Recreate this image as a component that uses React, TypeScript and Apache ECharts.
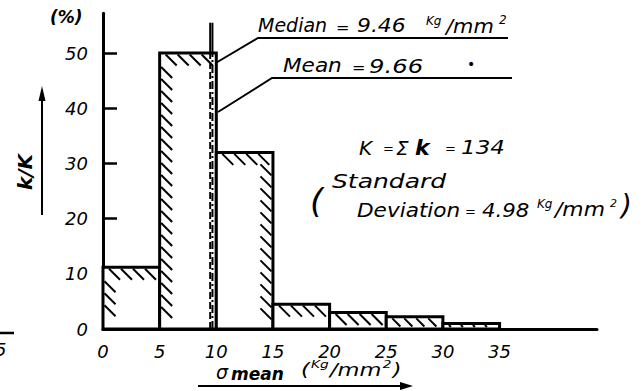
import React, { useEffect, useRef } from "react";
import * as echarts from "echarts";

// ---- data ----
const binStarts = [0, 5, 10, 15, 20, 25, 30];
const binEnds = [5, 10, 15, 20, 25, 30, 35];
const percentages = [11.2, 50, 32, 4.5, 3, 2.2, 1];
const medianValue = 9.46;
const meanValue = 9.66;
const xTickValues = [0, 5, 10, 15, 20, 25, 30, 35];
const yTickValues = [0, 10, 20, 30, 40, 50];

const FONT = "DejaVu Sans";

function txt(text: string, x: number, y: number, size: number, extra: any = {}) {
  return {
    type: "text",
    x,
    y,
    scaleX: extra.scaleX ?? 1,
    rotation: extra.rotation ?? 0,
    silent: true,
    style: {
      text,
      fontSize: size,
      fontFamily: FONT,
      fontStyle: "italic",
      fontWeight: extra.weight ?? "normal",
      fill: "#000",
      textAlign: extra.align ?? "left",
      textVerticalAlign: "middle",
    },
  };
}

function line(x1: number, y1: number, x2: number, y2: number, w = 2) {
  return { type: "line", silent: true, shape: { x1, y1, x2, y2 }, style: { stroke: "#000", lineWidth: w } };
}

export default function App() {
  const ref = useRef<HTMLDivElement>(null);
  useEffect(() => {
    if (!ref.current) return;
    const chart = echarts.init(ref.current, undefined, { renderer: "svg" });
    const histData = binStarts.map((s, i) => [s, binEnds[i], percentages[i]]);

    const renderItem = (params: any, api: any) => {
      const x0 = api.value(0);
      const x1 = api.value(1);
      const v = api.value(2);
      const idx = params.dataIndex;
      const tl = api.coord([x0, v]);
      const br = api.coord([x1, 0]);
      const w = br[0] - tl[0];
      const h = br[1] - tl[1];
      const children: any[] = [];
      children.push({
        type: "rect",
        shape: { x: tl[0], y: tl[1], width: w, height: h },
        style: { fill: "#fff", stroke: "#000", lineWidth: 3 },
      });
      const L = Math.max(2, Math.min(11, h - 4));
      const step = 12;
      const hs = { stroke: "#000", lineWidth: 2 };
      // hatching along top edge
      for (let x = tl[0] + 6; x + L < br[0] - 2; x += step) {
        children.push({ type: "line", shape: { x1: x, y1: tl[1] + 1.5, x2: x + L, y2: tl[1] + 1.5 + L }, style: hs });
      }
      // hatching along left edge
      if (idx < 2) {
        for (let y = tl[1] + 14; y + L < br[1] - 1; y += step) {
          children.push({ type: "line", shape: { x1: tl[0] + 1.5, y1: y, x2: tl[0] + 1.5 + L, y2: y + L }, style: hs });
        }
      }
      // hatching along right edge
      if (idx === 2) {
        for (let y = tl[1] + 12; y + L < br[1] - 1; y += step) {
          children.push({ type: "line", shape: { x1: br[0] - 1.5 - L, y1: y, x2: br[0] - 1.5, y2: y + L }, style: hs });
        }
      }
      return { type: "group", children };
    };

    const option: any = {
      animation: false,
      backgroundColor: "#fff",
      grid: { left: 103, right: 45, top: 13.3, bottom: 62 },
      xAxis: {
        type: "value",
        min: 0,
        max: 43.6,
        interval: 5,
        splitLine: { show: false },
        axisTick: { show: false },
        axisLine: { lineStyle: { color: "#000", width: 3 } },
        axisLabel: {
          customValues: xTickValues,
          margin: 13,
          fontSize: 18,
          fontFamily: FONT,
          fontStyle: "italic",
          color: "#000",
          formatter: (v: number) => (v <= 35 ? String(v) : ""),
        },
      },
      yAxis: {
        type: "value",
        min: 0,
        max: 57.2,
        interval: 10,
        splitLine: { show: false },
        axisLine: { show: true, lineStyle: { color: "#000", width: 3 } },
        axisTick: {
          show: true,
          inside: true,
          length: 14,
          customValues: yTickValues.filter((v) => v > 0),
          lineStyle: { color: "#000", width: 2.5 },
        },
        axisLabel: {
          customValues: yTickValues,
          margin: 15,
          fontSize: 18,
          fontFamily: FONT,
          fontStyle: "italic",
          color: "#000",
        },
      },
      series: [
        {
          type: "custom",
          renderItem,
          data: histData,
          encode: { x: [0, 1], y: 2 },
          z: 2,
        },
        {
          type: "line",
          data: [[medianValue, 0], [medianValue, 50]],
          symbol: "none",
          lineStyle: { color: "#000", width: 2, type: [7, 3] },
          z: 5,
        },
        {
          type: "line",
          data: [[medianValue, 50], [medianValue, 55.5]],
          symbol: "none",
          lineStyle: { color: "#000", width: 2 },
          z: 5,
        },
        {
          type: "line",
          data: [[meanValue, 0], [meanValue, 50]],
          symbol: "none",
          lineStyle: { color: "#000", width: 2, type: [8, 3, 2, 3] },
          z: 5,
        },
        {
          type: "line",
          data: [[meanValue, 50], [meanValue, 55.5]],
          symbol: "none",
          lineStyle: { color: "#000", width: 2 },
          z: 5,
        },
      ],
      graphic: [
        // unit and axis title
        txt("(%)", 50, 17, 17, { weight: "bold" }),
        txt("k/K", 25, 172, 20, { rotation: Math.PI / 2, align: "center", weight: "bold" }),
        line(42, 215, 42, 96, 2),
        { type: "polygon", silent: true, shape: { points: [[42, 86], [38.5, 101], [45.5, 101]] }, style: { fill: "#000" } },
        // median annotation
        txt("Median", 258, 25.5, 20, { scaleX: 0.95 }),
        txt("=", 336, 27, 16),
        txt("9.46", 357, 26, 19, { scaleX: 1.15 }),
        txt("Kg", 426, 21, 12),
        txt("/mm", 446, 26, 19, { scaleX: 1.1 }),
        txt("2", 499, 20, 12),
        { type: "polyline", silent: true, shape: { points: [[508, 38], [258, 38], [214, 64]] }, style: { stroke: "#000", lineWidth: 2, fill: "none" } },
        // mean annotation
        txt("Mean", 283, 65.5, 20, { scaleX: 1.08 }),
        txt("=", 352, 67, 16),
        txt("9.66", 369, 66, 19, { scaleX: 1.28 }),
        txt("•", 467, 64, 14),
        { type: "polyline", silent: true, shape: { points: [[512, 78], [272, 78], [218, 112]] }, style: { stroke: "#000", lineWidth: 2, fill: "none" } },
        // K and standard deviation
        txt("K", 359, 147.5, 20),
        txt("=", 383, 148, 13),
        txt("Σ", 396, 147.5, 20),
        txt("k", 415, 147.5, 22, { weight: "bold" }),
        txt("=", 445, 148, 13),
        txt("134", 461, 147.5, 20, { scaleX: 1.15 }),
        txt("(", 310, 201, 34),
        txt("Standard", 332, 181, 20, { scaleX: 1.25 }),
        txt("Deviation", 357, 210, 20, { scaleX: 1.08 }),
        txt("=", 465, 211, 13),
        txt("4.98", 482, 210, 19, { scaleX: 1.12 }),
        txt("Kg", 537, 204, 12),
        txt("/mm", 555, 210, 19, { scaleX: 1.15 }),
        txt("2", 610, 203, 11),
        txt(")", 621, 205, 28),
        // x axis title
        txt("σ", 216, 372, 19),
        txt("mean", 231, 374, 17, { weight: "bold" }),
        {
          type: "text",
          x: 301,
          y: 370,
          scaleX: 1.25,
          silent: true,
          style: {
            text: "{n|(}{s|Kg}{n|/mm}{s|2}{n|)}",
            fontFamily: FONT,
            fontStyle: "italic",
            fill: "#000",
            textAlign: "left",
            textVerticalAlign: "middle",
            rich: {
              n: { fontSize: 18, fontFamily: FONT, fontStyle: "italic", fill: "#000", lineHeight: 22 },
              s: { fontSize: 11, fontFamily: FONT, fontStyle: "italic", fill: "#000", verticalAlign: "top", lineHeight: 22, padding: [0, 1, 0, 1] },
            },
          },
        },
        line(198, 386, 404, 386, 2),
        { type: "polygon", silent: true, shape: { points: [[413, 386], [400, 382], [400, 390]] }, style: { fill: "#000" } },
        // partial neighbouring figure at left edge
        line(0, 333, 14, 333, 2.5),
        txt("5", -5, 349, 18),
      ],
    };
    chart.setOption(option);
    return () => chart.dispose();
  }, []);
  return (
    <div
      ref={ref}
      style={{ position: "fixed", left: 0, top: 0, width: 642, height: 391, background: "#fff" }}
    />
  );
}
